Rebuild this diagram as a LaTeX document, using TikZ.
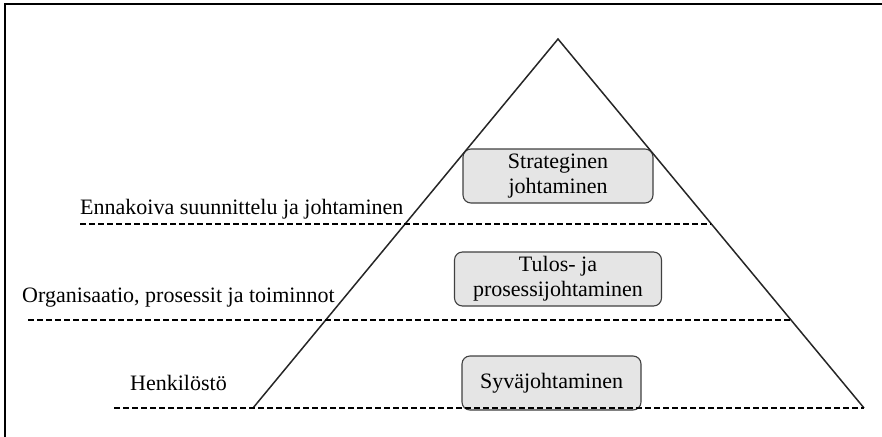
\documentclass[tikz,border=0pt]{standalone}
\usepackage{fontspec}
\setmainfont{Liberation Serif}
\begin{document}
\begin{tikzpicture}[x=1pt,y=-1pt,
  level/.style={draw=black!75, fill=black!10, rounded corners=8pt, line width=1.1pt,
    align=center, inner sep=0pt, font=\fontsize{22}{25}\selectfont},
  tag/.style={font=\fontsize{22}{25}\selectfont, inner sep=0pt, anchor=west},
  divider/.style={dash pattern=on 6pt off 3pt, line width=2.2pt},
  edge/.style={line width=1.5pt, black!85}]
\useasboundingbox (0,0) rectangle (882,436);
% frame (top and left edges)
\draw[line width=2.2pt] (5,440) -- (5,4) -- (890,4);

% pyramid corners
\coordinate (apex) at (558,39);
\coordinate (bl) at (253,408);
\coordinate (br) at (864,408);

% level dividers
\coordinate (d1l) at (80,224);   \coordinate (d1r) at (711,224);
\coordinate (d2l) at (28,320);   \coordinate (d2r) at (790,320);
\coordinate (d3l) at (114,408);

% boxes
\node[level, minimum width=190pt, minimum height=54pt] (b1) at (558,176) {Strateginen\\johtaminen};
\node[level, minimum width=207pt, minimum height=54pt] (b2) at (558,279) {Tulos- ja\\prosessijohtaminen};
\node[level, minimum width=179pt, minimum height=54pt] (b3) at (551.5,383) {Syväjohtaminen};

\draw[edge] (bl) -- (apex) -- (br);
\draw[divider] (d1l) -- (d1r);
\draw[divider] (d2l) -- (d2r);
\draw[divider] (d3l) -- (br);

% side labels
\node[tag] (t1) at (80,209) {Ennakoiva suunnittelu ja johtaminen};
\node[tag] (t2) at (22,298) {Organisaatio, prosessit ja toiminnot};
\node[tag] (t3) at (130,383) {Henkilöstö};
\end{tikzpicture}
\end{document}
